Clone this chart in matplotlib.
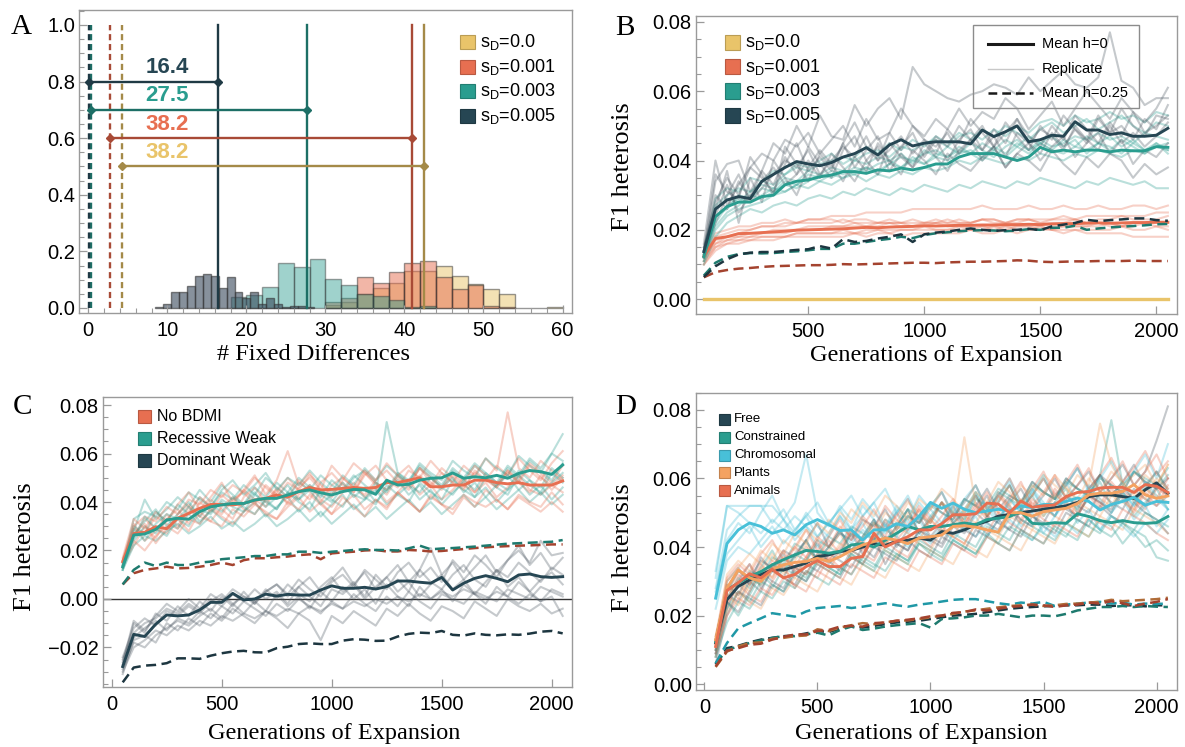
import numpy as np
import matplotlib
matplotlib.use("Agg")
import matplotlib.pyplot as plt
from matplotlib.patches import Rectangle
from matplotlib.lines import Line2D
from matplotlib.ticker import MultipleLocator
from matplotlib.colors import to_rgb

plt.rcParams["font.family"] = ["Liberation Sans", "DejaVu Sans"]
plt.rcParams["mathtext.fontset"] = "custom"
plt.rcParams["mathtext.rm"] = "Liberation Sans"
plt.rcParams["mathtext.default"] = "regular"

SERIF = "Liberation Serif"
W, H = 1185, 747
FRAME = "#9a9a9a"

DARK, TEAL, YELLOW = "#264653", "#2a9d8f", "#e9c46a"
SANDY, RED, CYAN = "#f4a261", "#e76f51", "#48c0d8"

# ---------------- data (line values in units of 1e-3) ----------------
gens = np.arange(50, 2051, 50)

# panel A: histograms of fixed differences
a_dark_centers = list(range(9, 29))
a_dark_vals = [0.005, 0.014, 0.055, 0.055, 0.077, 0.114, 0.119, 0.113, 0.070, 0.108,
               0.055, 0.034, 0.055, 0.014, 0.034, 0.014, 0.003, 0.008, 0.007, 0.003]
a_teal_left = list(range(18, 43, 2))
a_teal_vals = [0.038, 0.045, 0.075, 0.160, 0.144, 0.172, 0.101, 0.081, 0.048, 0.044,
               0.028, 0.003, 0.008]
a_orange_left = list(range(30, 53, 2))
a_orange_vals = [0.020, 0.036, 0.108, 0.087, 0.128, 0.160, 0.166, 0.111, 0.066, 0.081,
                 0.008, 0.005]
a_yellow_left = list(range(30, 59, 2))
a_yellow_vals = [0.010, 0.020, 0.050, 0.070, 0.087, 0.130, 0.130, 0.150, 0.113, 0.084,
                 0.066, 0.051, 0.0, 0.0, 0.004]
# order: sD = 0.0, 0.001, 0.003, 0.005
a_dashed_x = [4.3, 2.7, 0.35, 0.15]
a_solid_x = [42.5, 40.9, 27.7, 16.4]
a_bar_y = [0.5, 0.6, 0.7, 0.8]
a_labels = ["38.2", "38.2", "27.5", "16.4"]

# panel B
b_zero_mean = [0.0, 0.0, 0.0, 0.0, 0.0, 0.0, 0.0, 0.0, 0.0, 0.0,
               0.0, 0.0, 0.0, 0.0, 0.0, 0.0, 0.0, 0.0, 0.0, 0.0,
               0.0, 0.0, 0.0, 0.0, 0.0, 0.0, 0.0, 0.0, 0.0, 0.0,
               0.0, 0.0, 0.0, 0.0, 0.0, 0.0, 0.0, 0.0, 0.0, 0.0, 0.0]
b_red_mean = [12.4, 17.5, 18.0, 18.9, 19.0, 19.2, 19.4, 19.6, 19.9, 20.0,
              20.1, 20.2, 20.3, 20.5, 20.7, 20.6, 20.8, 20.9, 21.0, 21.2,
              21.1, 21.2, 21.3, 21.3, 21.4, 21.4, 21.5, 21.5, 21.6, 21.5,
              21.7, 21.8, 21.8, 21.9, 22.0, 21.9, 22.0, 22.1, 22.1, 22.2, 22.2]
b_teal_mean = [12.3, 23.8, 26.7, 28.0, 28.0, 29.6, 30.0, 33.0, 34.0, 34.4,
               35.3, 35.8, 36.8, 36.8, 36.3, 37.3, 37.0, 37.8, 37.3, 38.0,
               39.0, 39.0, 41.0, 42.0, 42.0, 42.0, 41.0, 40.0, 41.0, 43.8,
               42.5, 43.0, 42.5, 43.0, 43.0, 42.5, 43.0, 42.8, 42.8, 44.0, 43.8]
b_dark_mean = [13.7, 26.0, 28.6, 29.6, 29.0, 34.0, 36.0, 38.0, 39.7, 39.0,
               38.5, 39.4, 41.0, 42.0, 43.7, 41.6, 44.5, 46.0, 44.2, 45.0,
               45.4, 45.4, 45.4, 44.8, 48.8, 46.9, 48.3, 50.0, 45.4, 46.0,
               47.3, 47.0, 51.2, 48.8, 48.8, 47.5, 48.0, 47.0, 47.0, 47.3, 49.3]
b_red_dash = [6.3, 7.8, 8.4, 8.8, 9.0, 9.3, 9.5, 9.6, 9.7, 9.8,
              9.8, 9.9, 10.1, 10.0, 10.1, 10.2, 10.3, 10.4, 10.5, 10.5,
              10.4, 10.6, 10.7, 10.8, 10.8, 10.9, 11.0, 11.2, 11.1, 10.8,
              10.7, 10.8, 10.9, 10.9, 11.0, 11.0, 11.0, 11.1, 11.0, 11.0, 11.0]
b_teal_dash = [6.8, 10.5, 12.2, 13.0, 13.3, 13.2, 13.3, 13.6, 13.8, 14.1,
               14.5, 14.5, 16.0, 16.0, 16.5, 17.0, 17.4, 18.0, 17.6, 18.5,
               19.0, 19.3, 19.6, 19.8, 19.9, 19.8, 19.6, 19.8, 20.2, 20.0,
               20.6, 20.6, 21.2, 20.0, 20.4, 20.7, 20.9, 21.1, 21.3, 21.6, 21.7]
b_dark_dash = [6.4, 9.5, 11.5, 12.9, 13.4, 13.6, 13.6, 13.9, 14.2, 14.4,
               15.3, 14.6, 17.3, 16.5, 16.8, 17.5, 18.0, 18.7, 16.5, 18.7,
               19.2, 19.5, 20.0, 20.4, 20.0, 19.7, 19.9, 20.0, 20.3, 19.9,
               21.0, 21.5, 22.0, 22.9, 22.5, 22.8, 23.0, 23.3, 23.3, 22.8, 22.6]
b_red_reps = [
    [11, 16, 18, 19, 20, 21, 21, 22, 22, 23, 23, 24, 24, 24, 25, 25, 25, 25, 26, 26, 26, 26, 26, 26, 27, 26, 26, 26, 27, 26, 26, 27, 26, 26, 27, 26, 26, 27, 27, 26, 27],
    [12, 17, 18, 18, 19, 19, 20, 20, 20, 21, 21, 21, 21, 22, 21, 22, 22, 22, 22, 22, 23, 22, 23, 22, 23, 23, 22, 23, 23, 22, 23, 23, 23, 22, 23, 23, 24, 23, 23, 23, 24],
    [10, 14, 16, 17, 17, 18, 18, 18, 19, 19, 19, 19, 20, 19, 20, 20, 20, 20, 20, 21, 20, 20, 21, 20, 21, 21, 20, 21, 21, 21, 20, 21, 21, 21, 22, 21, 21, 21, 22, 21, 21],
    [13, 19, 20, 21, 21, 22, 22, 23, 22, 23, 23, 23, 22, 23, 23, 22, 23, 22, 23, 22, 22, 23, 22, 22, 23, 22, 22, 22, 23, 22, 22, 22, 23, 22, 22, 22, 21, 22, 22, 22, 22],
    [11, 15, 16, 16, 17, 17, 17, 18, 18, 18, 18, 18, 18, 19, 18, 19, 19, 18, 19, 19, 19, 19, 19, 20, 19, 19, 20, 19, 20, 20, 20, 19, 20, 20, 20, 20, 21, 20, 20, 21, 20],
    [12, 18, 19, 20, 20, 21, 21, 21, 22, 22, 22, 22, 23, 22, 22, 22, 22, 21, 21, 21, 22, 21, 21, 21, 21, 20, 21, 20, 20, 21, 20, 20, 20, 19, 19, 19, 19, 18, 18, 18, 18],
    [10, 15, 17, 18, 18, 19, 19, 19, 20, 20, 20, 21, 21, 21, 21, 21, 22, 22, 21, 22, 22, 22, 22, 22, 23, 23, 22, 23, 23, 23, 23, 24, 23, 24, 24, 24, 24, 24, 24, 25, 25],
    [12, 16, 17, 17, 18, 18, 18, 18, 19, 19, 19, 19, 19, 19, 19, 20, 19, 20, 20, 20, 20, 20, 20, 20, 20, 21, 21, 21, 21, 20, 21, 21, 21, 21, 21, 22, 21, 22, 22, 22, 22],
]
b_teal_reps = [
    [11, 20, 24, 26, 27, 28, 30, 31, 33, 32, 34, 33, 35, 36, 34, 36, 35, 37, 36, 38, 37, 38, 40, 39, 41, 40, 39, 41, 40, 42, 41, 40, 42, 41, 43, 42, 41, 43, 42, 44, 43],
    [13, 27, 30, 32, 31, 34, 33, 36, 38, 37, 39, 40, 41, 40, 42, 43, 41, 44, 43, 45, 46, 44, 47, 48, 46, 49, 47, 50, 48, 51, 52, 50, 53, 51, 52, 54, 52, 53, 51, 54, 53],
    [12, 22, 27, 29, 28, 30, 32, 31, 33, 35, 34, 36, 35, 37, 38, 36, 39, 38, 40, 39, 41, 40, 42, 43, 41, 44, 42, 45, 43, 46, 44, 45, 47, 46, 48, 46, 47, 45, 48, 47, 46],
    [10, 18, 22, 24, 26, 25, 27, 28, 27, 29, 30, 29, 31, 30, 32, 31, 30, 32, 31, 33, 32, 31, 33, 32, 34, 33, 32, 34, 33, 35, 34, 33, 32, 34, 33, 35, 34, 33, 34, 32, 32],
    [14, 29, 32, 31, 35, 34, 37, 36, 39, 38, 40, 42, 39, 41, 44, 42, 45, 43, 46, 44, 47, 45, 48, 46, 49, 47, 50, 48, 46, 49, 51, 48, 50, 52, 49, 51, 53, 50, 48, 51, 50],
    [12, 24, 26, 30, 29, 32, 31, 34, 33, 36, 35, 37, 36, 38, 37, 39, 40, 38, 41, 39, 42, 41, 43, 42, 40, 43, 41, 44, 42, 45, 43, 42, 44, 43, 45, 44, 42, 45, 43, 44, 45],
    [11, 21, 25, 27, 30, 29, 31, 33, 32, 34, 36, 35, 37, 36, 38, 37, 39, 41, 40, 42, 43, 41, 44, 42, 45, 43, 46, 44, 47, 45, 43, 46, 44, 47, 45, 43, 46, 44, 42, 45, 43],
    [13, 26, 29, 28, 31, 33, 32, 35, 34, 37, 36, 38, 37, 40, 39, 41, 40, 42, 39, 43, 41, 44, 42, 45, 43, 41, 44, 46, 43, 45, 47, 44, 46, 42, 45, 47, 44, 46, 43, 45, 42],
]
b_dark_reps = [
    [15, 28, 35, 30, 38, 42, 40, 46, 44, 48, 42, 46, 50, 44, 52, 46, 48, 55, 50, 47, 52, 49, 55, 50, 54, 52, 58, 55, 49, 53, 57, 50, 55, 60, 56, 52, 58, 54, 51, 55, 61],
    [13, 34, 39, 40, 31, 37, 45, 42, 50, 44, 53, 47, 46, 56, 50, 55, 58, 52, 67, 62, 60, 58, 57, 59, 60, 62, 61, 59, 64, 60, 63, 66, 62, 61, 64, 77, 63, 61, 56, 58, 58],
    [12, 22, 30, 36, 28, 32, 36, 40, 38, 43, 36, 40, 44, 41, 47, 40, 43, 47, 42, 46, 44, 48, 42, 46, 50, 44, 48, 52, 45, 49, 47, 43, 50, 46, 53, 48, 50, 46, 52, 49, 56],
    [16, 40, 27, 33, 38, 35, 31, 39, 45, 37, 41, 37, 45, 38, 43, 47, 39, 44, 48, 41, 46, 40, 46, 49, 43, 47, 41, 48, 45, 42, 48, 44, 49, 46, 43, 50, 45, 48, 44, 47, 51],
    [14, 24, 33, 25, 30, 34, 38, 33, 36, 40, 35, 42, 38, 34, 40, 44, 37, 42, 38, 45, 41, 37, 43, 46, 40, 44, 38, 42, 45, 40, 44, 47, 41, 45, 48, 42, 46, 39, 43, 41, 45],
    [13, 30, 26, 34, 29, 37, 33, 41, 36, 44, 39, 35, 43, 47, 40, 36, 45, 41, 38, 42, 47, 44, 50, 46, 43, 49, 45, 52, 47, 44, 50, 46, 53, 49, 45, 51, 47, 54, 48, 50, 53],
    [15, 26, 37, 22, 35, 28, 40, 35, 30, 38, 43, 39, 34, 41, 37, 45, 40, 36, 43, 40, 36, 42, 39, 37, 41, 44, 38, 42, 40, 37, 43, 39, 36, 41, 38, 42, 40, 35, 39, 36, 38],
    [14, 36, 31, 29, 41, 36, 30, 44, 39, 34, 42, 38, 45, 51, 44, 40, 48, 43, 50, 46, 42, 49, 45, 52, 48, 44, 51, 47, 43, 50, 46, 53, 49, 45, 52, 48, 55, 50, 47, 53, 52],
]

# panel C
c_nobdmi_mean = [15.4, 27.0, 27.5, 29.8, 29.0, 33.3, 35.3, 37.4, 39.0, 39.0,
                 38.8, 39.4, 40.8, 41.5, 42.9, 42.0, 44.3, 46.0, 45.0, 45.2,
                 45.6, 46.0, 45.6, 46.0, 48.0, 48.0, 49.0, 50.0, 46.3, 46.3,
                 47.0, 47.0, 49.0, 49.0, 48.0, 47.5, 48.0, 47.0, 47.0, 47.0, 48.7]
c_recessive_mean = [13.3, 26.4, 26.8, 28.7, 32.6, 33.3, 32.9, 36.0, 38.0, 38.8,
                    39.4, 39.4, 40.8, 41.5, 41.5, 42.9, 44.3, 45.0, 43.8, 42.9,
                    44.3, 45.2, 45.0, 43.2, 49.0, 47.0, 47.3, 49.0, 49.8, 50.0,
                    52.0, 49.8, 50.4, 50.0, 51.0, 49.8, 51.8, 53.0, 52.5, 51.4, 55.3]
c_dominant_mean = [-27.9, -14.6, -15.5, -10.4, -6.6, -7.0, -6.6, -4.5, -1.4, -1.4,
                   2.3, -0.4, 0.0, 2.0, 1.2, 1.9, 1.6, 1.6, 3.7, 5.4,
                   4.4, 4.4, 4.8, 4.1, 5.1, 7.4, 7.4, 6.9, 6.5, 8.9,
                   3.7, 6.5, 8.5, 9.6, 8.5, 7.1, 9.9, 10.3, 9.2, 8.9, 9.2]
c_nobdmi_dash = [6.0, 10.6, 12.0, 12.6, 13.3, 12.6, 12.8, 13.3, 14.0, 15.0,
                 14.0, 16.0, 16.8, 16.8, 17.2, 17.5, 18.1, 18.4, 16.4, 18.8,
                 19.2, 19.5, 20.0, 20.2, 19.6, 19.6, 20.2, 20.0, 19.6, 19.8,
                 20.2, 20.6, 21.0, 21.3, 21.6, 21.8, 22.0, 22.1, 22.3, 22.5, 22.5]
c_recessive_dash = [6.0, 12.0, 15.0, 13.6, 15.0, 14.0, 14.0, 15.0, 15.4, 16.4,
                    16.8, 17.2, 17.7, 17.7, 18.4, 18.4, 19.5, 19.5, 19.0, 19.5,
                    19.8, 20.2, 20.5, 20.2, 20.2, 20.0, 20.9, 22.0, 20.5, 20.8,
                    21.0, 21.3, 21.6, 22.0, 22.4, 22.8, 23.0, 23.2, 23.4, 23.6, 24.3]
c_dominant_dash = [-34.4, -28.3, -27.5, -27.2, -26.5, -24.5, -24.5, -24.7, -23.4, -22.4,
                   -21.7, -21.4, -22.0, -22.1, -20.3, -19.7, -18.6, -18.3, -18.6, -18.6,
                   -17.2, -16.6, -16.8, -17.3, -17.2, -15.5, -14.4, -13.9, -14.1, -13.2,
                   -14.8, -15.1, -14.2, -14.8, -15.0, -14.6, -14.8, -14.3, -13.5, -13.2, -14.2]
c_nobdmi_reps = [
    [14, 22, 30, 25, 33, 37, 31, 40, 36, 43, 39, 45, 41, 38, 46, 42, 49, 44, 40, 47, 50, 46, 43, 49, 53, 48, 45, 51, 47, 54, 50, 46, 52, 49, 55, 51, 58, 53, 49, 56, 61],
    [16, 31, 24, 28, 35, 30, 38, 34, 41, 37, 33, 42, 46, 40, 44, 50, 45, 41, 48, 52, 47, 44, 51, 55, 49, 46, 53, 50, 57, 52, 48, 55, 51, 58, 53, 77, 54, 50, 57, 53, 49],
    [13, 26, 33, 29, 27, 35, 39, 34, 32, 38, 42, 37, 35, 41, 45, 39, 43, 47, 41, 38, 44, 48, 42, 46, 40, 44, 49, 43, 47, 41, 45, 50, 44, 48, 42, 46, 51, 45, 43, 47, 44],
    [15, 29, 27, 34, 31, 29, 36, 42, 38, 35, 41, 44, 39, 47, 43, 40, 46, 50, 45, 42, 48, 44, 52, 47, 43, 50, 46, 54, 48, 45, 51, 47, 44, 50, 46, 53, 48, 44, 51, 45, 50],
    [14, 24, 20, 26, 30, 27, 33, 31, 37, 34, 31, 36, 40, 35, 33, 38, 42, 36, 40, 35, 39, 43, 37, 41, 38, 44, 40, 36, 42, 39, 37, 43, 40, 38, 41, 37, 42, 39, 36, 40, 36],
    [17, 33, 29, 36, 32, 39, 44, 37, 42, 48, 40, 45, 51, 43, 49, 61, 47, 52, 45, 55, 50, 46, 53, 49, 56, 51, 47, 54, 50, 46, 52, 48, 55, 51, 47, 53, 49, 56, 52, 48, 55],
    [15, 27, 31, 23, 29, 33, 28, 36, 32, 30, 37, 34, 39, 36, 33, 40, 37, 43, 39, 35, 42, 38, 34, 41, 37, 44, 40, 36, 43, 39, 35, 42, 38, 45, 41, 37, 43, 40, 38, 44, 39],
    [16, 30, 34, 32, 38, 35, 41, 39, 45, 42, 47, 44, 50, 46, 42, 48, 45, 51, 47, 43, 49, 56, 52, 48, 45, 51, 55, 49, 46, 52, 48, 45, 53, 49, 46, 52, 48, 55, 50, 47, 51],
]
c_recessive_reps = [
    [13, 28, 41, 33, 37, 42, 38, 45, 40, 47, 43, 39, 46, 42, 48, 44, 50, 46, 42, 49, 45, 51, 47, 43, 73, 52, 48, 54, 50, 46, 53, 49, 55, 51, 47, 54, 50, 57, 53, 49, 56],
    [12, 24, 30, 27, 33, 29, 35, 31, 37, 33, 30, 36, 40, 34, 38, 42, 36, 40, 34, 39, 43, 37, 41, 45, 39, 43, 47, 41, 45, 39, 44, 48, 42, 46, 40, 45, 49, 43, 47, 41, 46],
    [14, 30, 27, 36, 32, 39, 35, 42, 38, 44, 41, 47, 43, 50, 46, 42, 48, 45, 51, 47, 44, 50, 53, 48, 45, 52, 49, 55, 51, 47, 54, 50, 56, 52, 48, 55, 51, 58, 54, 60, 68],
    [12, 22, 26, 24, 28, 31, 27, 30, 34, 29, 32, 28, 31, 35, 30, 33, 37, 32, 36, 31, 35, 39, 34, 38, 33, 37, 41, 36, 40, 35, 39, 43, 38, 42, 37, 41, 45, 40, 44, 39, 43],
    [13, 33, 36, 34, 40, 37, 44, 41, 38, 45, 49, 43, 47, 52, 45, 50, 47, 53, 48, 44, 51, 47, 54, 49, 55, 51, 48, 56, 52, 49, 57, 53, 50, 58, 54, 51, 59, 55, 52, 60, 57],
    [15, 26, 32, 37, 30, 35, 40, 34, 39, 36, 42, 38, 35, 41, 37, 44, 40, 37, 45, 41, 38, 46, 42, 39, 47, 43, 40, 48, 44, 41, 49, 45, 42, 50, 46, 43, 51, 47, 44, 52, 48],
    [12, 29, 24, 31, 35, 33, 30, 37, 35, 41, 38, 36, 43, 40, 37, 44, 41, 47, 43, 40, 46, 43, 41, 48, 44, 51, 47, 44, 50, 46, 43, 49, 45, 52, 48, 45, 53, 49, 46, 54, 50],
    [13, 25, 34, 29, 26, 33, 38, 32, 36, 40, 35, 39, 44, 38, 42, 47, 41, 45, 39, 43, 48, 42, 46, 40, 45, 49, 43, 47, 41, 46, 50, 44, 48, 42, 47, 51, 45, 49, 43, 48, 52],
]
c_dominant_reps = [
    [-25, -14, -10, -8, -4, -6, -2, -5, 0, -3, 2, -1, 4, 0, 3, -2, 5, 1, -3, 4, 2, 6, 0, 5, 9, 3, 7, 1, 6, 10, 4, 8, 2, 7, 12, 5, 9, 3, 8, 11, 6],
    [-29, -18, -20, -15, -12, -9, -11, -7, -4, -8, -2, -6, -1, -5, 2, -3, 1, -4, 3, -1, 5, 0, 4, -2, 6, 1, -3, 5, 0, 4, -1, 6, 2, -2, 5, 1, 7, 3, -1, 4, 2],
    [-27, -10, -14, -6, -9, -3, -7, -1, -5, 1, -3, 3, -2, 4, 0, 6, 2, -1, 5, 9, 3, 7, 1, 10, 5, 8, 3, 12, 7, 4, 10, 14, 8, 5, 12, 9, 15, 11, 7, 13, 10],
    [-30, -20, -17, -13, -15, -11, -13, -9, -11, -7, -9, -6, -8, -5, -7, -4, -6, -3, -5, -2, -4, -1, -3, 0, -2, 1, -1, 2, 0, 3, 1, 4, 2, 0, 3, 1, -2, 2, -1, 1, -7],
    [-24, -12, -8, -11, -5, -7, -3, -6, -1, 2, -2, 1, -1, 3, 6, 2, 8, 4, 1, 7, 10, 5, 12, 8, 4, 11, 15, 9, 13, 7, 16, 11, 18, 14, 9, 16, 20, 15, 24, 18, 19],
    [-28, -16, -12, -9, -13, -8, -10, -5, -8, -3, -6, -1, -4, -7, -2, -5, 0, -3, -6, -1, -4, 2, -2, -5, 1, -3, 3, -1, -4, 2, 0, -2, 3, 1, -1, 4, 2, 0, 5, 3, 1],
    [-26, -9, -13, -7, -2, -5, 0, -4, 2, -1, 4, 1, -2, 3, 6, 1, 5, 9, 3, 8, 13, 6, 11, 4, 9, 14, 7, 12, 21, 10, 15, 8, 13, 18, 11, 16, 22, 14, 19, 12, 17],
    [-31, -17, -15, -18, -10, -13, -8, -11, -6, -9, -4, -7, -10, -5, -8, -12, -6, -9, -17, -7, -10, -5, -8, -11, -4, -7, -2, -6, -9, -3, -5, -8, -1, -4, -7, 0, -3, -5, -2, -6, -4],
]

# panel D
d_names = ["Free", "Constrained", "Chromosomal", "Plants", "Animals"]
d_free_mean = [12.0, 24.6, 28.5, 30.4, 32.0, 33.3, 33.3, 34.3, 35.3, 37.2,
               37.7, 38.7, 39.0, 40.0, 41.0, 40.5, 41.6, 42.0, 42.6, 42.0,
               44.5, 44.0, 45.0, 46.5, 47.5, 49.0, 49.5, 50.0, 50.5, 51.0,
               51.5, 52.0, 53.0, 54.7, 55.2, 55.2, 54.7, 54.2, 56.7, 58.7, 55.6]
d_constrained_mean = [12.4, 27.5, 29.5, 31.4, 32.8, 34.8, 36.3, 37.7, 39.0, 38.7,
                      38.2, 38.7, 40.6, 41.0, 40.0, 42.0, 44.0, 46.0, 45.0, 46.0,
                      46.0, 46.5, 47.0, 46.5, 48.0, 48.4, 48.9, 50.3, 46.9, 46.7,
                      47.1, 46.9, 49.7, 48.9, 47.7, 47.1, 47.7, 47.1, 46.9, 47.1, 48.9]
d_chromosomal_mean = [25.1, 41.0, 45.0, 47.0, 46.0, 44.0, 45.0, 43.5, 46.5, 48.0,
                      46.5, 44.8, 45.0, 42.0, 45.0, 45.0, 46.8, 46.0, 49.0, 53.0,
                      51.3, 52.8, 51.0, 50.0, 50.5, 51.0, 50.5, 52.0, 51.5, 52.4,
                      52.4, 53.3, 54.3, 53.3, 50.8, 52.4, 53.3, 54.5, 52.2, 53.3, 53.0]
d_plants_mean = [12.9, 28.0, 33.3, 31.0, 30.0, 33.5, 34.8, 35.5, 35.8, 36.7,
                 35.8, 37.2, 39.0, 40.6, 41.6, 42.6, 42.0, 41.0, 42.6, 43.0,
                 43.5, 46.0, 46.2, 45.8, 45.0, 44.3, 50.0, 50.0, 49.0, 50.3,
                 50.8, 51.3, 52.7, 55.2, 55.7, 55.7, 56.2, 58.2, 55.2, 54.2, 54.9]
d_animals_mean = [11.0, 27.3, 29.6, 32.2, 31.0, 33.5, 31.0, 32.0, 34.3, 36.0,
                  34.3, 34.3, 36.7, 37.2, 44.0, 40.0, 41.6, 43.0, 45.0, 45.0,
                  46.8, 49.4, 49.4, 49.7, 52.8, 52.5, 50.0, 53.4, 51.6, 52.0,
                  52.3, 54.7, 55.9, 56.2, 57.2, 57.4, 57.4, 55.9, 58.2, 57.7, 55.9]
d_free_dash = [5.8, 10.5, 11.2, 12.2, 13.0, 13.5, 14.0, 14.2, 14.8, 15.5,
               15.2, 16.2, 17.0, 16.5, 17.0, 17.5, 18.0, 18.2, 18.5, 19.0,
               19.5, 20.0, 20.2, 20.5, 21.0, 21.5, 22.0, 22.3, 22.5, 22.7,
               22.8, 23.0, 23.0, 23.2, 23.2, 22.8, 23.0, 23.0, 22.7, 23.0, 23.0]
d_constrained_dash = [6.0, 10.0, 11.0, 12.0, 12.8, 13.5, 14.0, 14.0, 14.5, 15.0,
                      14.2, 15.8, 16.8, 15.8, 16.2, 16.8, 17.2, 17.5, 17.8, 16.5,
                      19.0, 19.2, 19.5, 20.0, 20.0, 20.5, 20.0, 19.5, 20.0, 20.0,
                      19.8, 20.5, 21.5, 22.0, 22.5, 22.5, 22.8, 22.5, 22.8, 22.6, 22.5]
d_chromosomal_dash = [6.1, 12.0, 16.3, 17.8, 19.2, 20.7, 20.2, 19.7, 21.2, 22.2,
                      22.5, 22.8, 22.2, 22.6, 23.1, 23.6, 23.0, 22.6, 23.2, 23.6,
                      24.1, 24.6, 24.8, 24.8, 24.2, 23.6, 23.2, 23.8, 23.5, 24.0,
                      22.8, 23.2, 23.5, 23.8, 24.0, 23.5, 23.8, 23.2, 23.5, 23.4, 23.5]
d_plants_dash = [5.0, 9.5, 11.0, 12.0, 12.2, 13.2, 13.5, 14.0, 14.2, 16.0,
                 15.5, 16.5, 17.2, 17.8, 17.5, 18.0, 18.5, 18.6, 19.0, 19.5,
                 20.0, 20.5, 21.2, 21.5, 22.0, 22.4, 22.8, 23.0, 23.2, 22.8,
                 23.0, 23.4, 23.5, 23.8, 24.0, 24.6, 24.2, 24.4, 24.6, 24.8, 25.2]
d_animals_dash = [5.2, 9.8, 10.5, 11.5, 11.8, 13.0, 13.8, 14.5, 14.5, 15.5,
                  15.8, 16.8, 17.0, 16.8, 17.8, 18.0, 18.5, 18.8, 19.2, 19.8,
                  20.0, 20.8, 21.0, 21.8, 21.5, 22.0, 22.5, 22.8, 23.2, 23.0,
                  22.5, 23.0, 23.2, 23.8, 23.5, 24.2, 23.6, 22.8, 23.5, 24.0, 24.8]
d_free_reps = [
    [8, 22, 30, 35, 28, 33, 38, 32, 36, 41, 35, 39, 44, 38, 42, 47, 40, 45, 49, 43, 47, 52, 46, 50, 55, 48, 53, 57, 51, 55, 60, 54, 58, 62, 56, 60, 64, 58, 62, 71, 81],
    [12, 26, 24, 30, 27, 34, 31, 29, 35, 33, 38, 36, 34, 40, 37, 43, 41, 39, 45, 42, 40, 46, 44, 50, 47, 45, 51, 48, 46, 52, 49, 55, 52, 50, 56, 53, 51, 57, 54, 52, 55],
    [10, 30, 34, 29, 37, 33, 31, 38, 42, 36, 40, 45, 39, 43, 48, 42, 46, 51, 44, 48, 53, 47, 50, 55, 49, 53, 58, 51, 55, 60, 54, 58, 63, 57, 61, 55, 59, 64, 58, 62, 57],
    [6, 20, 27, 25, 23, 29, 27, 32, 30, 35, 33, 31, 37, 35, 40, 38, 36, 42, 39, 37, 43, 41, 39, 45, 43, 48, 45, 43, 49, 46, 44, 50, 48, 46, 52, 49, 47, 53, 50, 48, 44],
    [13, 28, 33, 31, 36, 34, 39, 37, 42, 47, 40, 44, 42, 48, 46, 51, 45, 49, 47, 53, 50, 48, 54, 52, 57, 51, 55, 53, 59, 56, 54, 60, 57, 55, 61, 58, 56, 62, 59, 57, 60],
    [9, 24, 21, 27, 33, 30, 28, 34, 32, 38, 36, 33, 39, 37, 43, 35, 41, 39, 45, 43, 41, 47, 45, 43, 49, 47, 45, 51, 49, 47, 53, 51, 49, 55, 53, 51, 57, 54, 52, 58, 55],
]
d_constrained_reps = [
    [11, 25, 31, 28, 34, 39, 33, 37, 42, 36, 40, 45, 39, 43, 48, 41, 46, 51, 44, 49, 53, 47, 51, 56, 49, 54, 58, 51, 55, 49, 53, 57, 50, 54, 59, 52, 56, 49, 53, 57, 51],
    [9, 22, 27, 24, 30, 28, 34, 32, 30, 36, 34, 32, 38, 36, 34, 40, 38, 36, 42, 40, 38, 44, 42, 40, 46, 44, 42, 48, 46, 44, 42, 47, 45, 43, 48, 46, 41, 45, 43, 37, 36],
    [13, 29, 26, 33, 31, 37, 35, 41, 39, 37, 43, 41, 46, 44, 42, 48, 46, 51, 49, 47, 53, 50, 48, 54, 52, 57, 55, 53, 59, 56, 54, 60, 57, 55, 61, 77, 58, 62, 59, 57, 61],
    [8, 18, 24, 22, 27, 25, 30, 28, 33, 31, 29, 34, 32, 37, 35, 33, 38, 36, 41, 39, 37, 42, 40, 38, 43, 41, 46, 44, 42, 47, 45, 43, 48, 46, 44, 49, 47, 45, 50, 48, 46],
    [12, 27, 33, 31, 29, 35, 33, 38, 36, 42, 40, 38, 44, 42, 47, 45, 43, 49, 47, 52, 50, 48, 54, 52, 50, 56, 54, 52, 58, 56, 54, 59, 57, 55, 60, 58, 56, 62, 60, 58, 63],
    [10, 24, 20, 26, 32, 29, 27, 33, 31, 36, 34, 32, 38, 35, 33, 39, 37, 35, 41, 38, 36, 42, 40, 38, 44, 41, 39, 45, 43, 41, 46, 44, 42, 48, 45, 43, 47, 44, 40, 42, 39],
]
d_chromosomal_reps = [
    [33, 52, 52, 52, 52, 52, 48, 44, 50, 46, 43, 49, 45, 52, 48, 44, 51, 47, 53, 49, 46, 52, 48, 55, 51, 47, 54, 50, 56, 52, 49, 55, 51, 57, 53, 50, 56, 52, 58, 54, 51],
    [28, 45, 49, 52, 52, 47, 51, 45, 49, 53, 47, 51, 55, 49, 53, 57, 50, 54, 48, 52, 56, 50, 54, 58, 51, 55, 60, 53, 57, 51, 55, 59, 53, 57, 61, 55, 59, 53, 57, 62, 56],
    [25, 38, 42, 46, 40, 44, 48, 42, 46, 40, 44, 49, 43, 47, 41, 45, 50, 44, 48, 42, 46, 51, 45, 49, 43, 48, 52, 46, 50, 44, 49, 53, 47, 51, 45, 50, 54, 48, 52, 46, 51],
    [31, 52, 50, 47, 44, 48, 45, 49, 46, 43, 47, 44, 41, 45, 42, 46, 43, 40, 44, 41, 45, 42, 46, 43, 47, 44, 48, 45, 42, 46, 43, 47, 44, 48, 45, 49, 46, 43, 47, 44, 48],
    [22, 36, 40, 38, 42, 46, 41, 45, 49, 43, 47, 51, 45, 49, 53, 46, 50, 55, 48, 52, 56, 49, 53, 58, 51, 55, 59, 52, 56, 61, 54, 58, 63, 56, 60, 65, 58, 62, 67, 60, 70],
    [27, 42, 47, 44, 50, 55, 48, 53, 67, 50, 46, 52, 48, 54, 50, 46, 52, 48, 55, 51, 47, 53, 49, 56, 52, 48, 54, 50, 57, 53, 49, 55, 51, 58, 54, 50, 56, 52, 59, 55, 51],
]
d_plants_reps = [
    [10, 24, 30, 27, 33, 38, 32, 36, 41, 35, 39, 44, 38, 42, 47, 41, 45, 50, 44, 48, 53, 46, 51, 55, 49, 53, 58, 51, 55, 60, 54, 58, 52, 56, 61, 55, 59, 53, 57, 62, 56],
    [14, 28, 25, 31, 29, 35, 33, 31, 37, 35, 33, 39, 37, 35, 41, 39, 37, 43, 41, 39, 45, 43, 41, 47, 45, 43, 49, 47, 45, 51, 49, 47, 53, 51, 49, 55, 53, 51, 57, 55, 53],
    [8, 21, 27, 24, 22, 28, 26, 31, 29, 27, 33, 31, 29, 35, 33, 31, 37, 35, 33, 39, 37, 35, 41, 39, 37, 43, 41, 39, 45, 43, 41, 47, 45, 43, 49, 47, 45, 51, 49, 47, 44],
    [12, 32, 36, 33, 39, 36, 42, 39, 45, 42, 48, 45, 51, 48, 44, 50, 47, 53, 50, 47, 53, 50, 72, 52, 49, 55, 52, 58, 55, 61, 58, 55, 61, 58, 76, 64, 58, 61, 64, 58, 64],
    [11, 26, 23, 29, 34, 31, 37, 34, 32, 38, 36, 41, 39, 37, 43, 40, 46, 44, 42, 48, 45, 43, 49, 47, 52, 50, 48, 54, 51, 49, 55, 53, 51, 57, 54, 52, 58, 56, 54, 60, 57],
    [13, 30, 34, 38, 35, 41, 38, 44, 41, 47, 44, 50, 47, 53, 49, 55, 52, 48, 54, 51, 57, 54, 50, 56, 53, 59, 56, 52, 58, 55, 61, 57, 54, 60, 56, 62, 59, 55, 61, 58, 64],
]
d_animals_reps = [
    [12, 27, 32, 29, 35, 31, 37, 34, 40, 36, 42, 38, 45, 41, 47, 43, 50, 46, 52, 48, 44, 50, 47, 53, 49, 56, 52, 48, 54, 51, 57, 53, 50, 56, 52, 59, 55, 51, 57, 54, 60],
    [10, 23, 29, 26, 24, 30, 35, 28, 33, 31, 37, 34, 32, 38, 36, 42, 39, 37, 43, 40, 46, 43, 41, 47, 44, 50, 47, 45, 51, 48, 46, 52, 49, 55, 53, 50, 56, 54, 51, 57, 55],
    [14, 31, 35, 32, 38, 42, 36, 40, 45, 39, 43, 48, 42, 46, 51, 45, 49, 54, 47, 51, 56, 49, 53, 58, 51, 55, 60, 53, 57, 62, 55, 59, 64, 57, 61, 66, 59, 63, 68, 61, 65],
    [9, 20, 25, 23, 28, 26, 31, 29, 27, 33, 31, 29, 35, 33, 31, 37, 35, 33, 39, 37, 35, 41, 39, 37, 43, 41, 39, 45, 43, 41, 47, 45, 43, 49, 47, 45, 51, 49, 47, 44, 42],
    [13, 29, 26, 32, 30, 36, 34, 40, 37, 43, 40, 46, 43, 49, 45, 52, 48, 45, 51, 47, 53, 49, 46, 52, 48, 55, 51, 47, 53, 50, 56, 52, 49, 55, 51, 57, 54, 50, 56, 52, 58],
    [11, 25, 31, 35, 30, 34, 39, 33, 37, 42, 36, 40, 45, 39, 43, 48, 42, 46, 51, 45, 49, 54, 47, 51, 56, 50, 54, 59, 52, 56, 61, 54, 58, 63, 56, 60, 65, 58, 62, 67, 60],
]

# ---------------- layout (pixel boxes: left, top, right, bottom) ----------------
A_BOX = (79.3, 10.0, 572.0, 313.0)
B_BOX = (695.5, 16.0, 1176.7, 313.7)
C_BOX = (102.7, 397.3, 571.7, 686.7)
D_BOX = (696.0, 392.7, 1176.7, 690.0)

fig = plt.figure(figsize=(W / 100, H / 100), dpi=100)


def px2ax(box, px, py):
    l, t, r, b = box
    return (px - l) / (r - l), (b - py) / (b - t)


def shade(c, f=0.8):
    return tuple(v * f for v in to_rgb(c))


def make_axes(box):
    l, t, r, b = box
    ax = fig.add_axes([l / W, 1 - b / H, (r - l) / W, (b - t) / H])
    for s in ax.spines.values():
        s.set_color(FRAME)
        s.set_linewidth(1.0)
    ax.tick_params(which="both", direction="in", color=FRAME, labelsize=14.5,
                   top=False, right=False)
    ax.tick_params(which="major", length=6, width=0.9)
    ax.tick_params(which="minor", length=3.5, width=0.8)
    ax.tick_params(axis="x", pad=6)
    ax.tick_params(axis="y", pad=3)
    return ax


def place_labels(ax, box, xlab, xpos, ylab=None, ypos=None):
    ax.set_xlabel(xlab, family=SERIF, fontsize=17.5)
    ax.xaxis.set_label_coords(*px2ax(box, *xpos))
    ax.xaxis.label.set_va("center")
    if ylab:
        ax.set_ylabel(ylab, family=SERIF, fontsize=19)
        ax.yaxis.set_label_coords(*px2ax(box, *ypos))
        ax.yaxis.label.set_va("center")


def square_legend(ax, box, labels, colors, x_sq, ys, size, x_txt, fs):
    for lab, c, yc in zip(labels, colors, ys):
        x0, y0 = px2ax(box, x_sq, yc + size / 2)
        x1, y1 = px2ax(box, x_sq + size, yc - size / 2)
        ax.add_patch(Rectangle((x0, y0), x1 - x0, y1 - y0, transform=ax.transAxes,
                               facecolor=c, edgecolor=shade(c), lw=0.8,
                               zorder=10, clip_on=False))
        tx, ty = px2ax(box, x_txt, yc)
        ax.text(tx, ty, lab, transform=ax.transAxes, ha="left", va="center",
                fontsize=fs, zorder=10)


def draw_series(ax, ys, color, kind):
    y = np.array(ys) * 1e-3
    x = gens[:len(y)]
    if kind == "rep":
        ax.plot(x, y, color=color, lw=1.5, alpha=0.32, zorder=2)
    elif kind == "mean":
        ax.plot(x, y, color=color, lw=2.1, zorder=4)
    else:
        ax.plot(x, y, color=color, lw=1.8, dashes=(4, 2.2), zorder=5)


def gen_ticks(ax, ticks, ylim, yticks, ylabels):
    ax.set_xticks(ticks)
    ax.set_xticklabels([str(t) for t in ticks])
    ax.set_yticks(yticks)
    ax.set_yticklabels(ylabels)
    ax.yaxis.set_minor_locator(MultipleLocator(0.005))
    ax.set_ylim(*ylim)


# ---------------- panel A ----------------
axA = make_axes(A_BOX)
hist_edge = (0.2, 0.2, 0.2, 0.55)
axA.bar(a_yellow_left, a_yellow_vals, width=2, align="edge", color=YELLOW, alpha=0.5,
        edgecolor=hist_edge, lw=1.0, zorder=1)
axA.bar(a_orange_left, a_orange_vals, width=2, align="edge", color=RED, alpha=0.5,
        edgecolor=hist_edge, lw=1.0, zorder=1)
axA.bar(a_teal_left, a_teal_vals, width=2, align="edge", color=TEAL, alpha=0.45,
        edgecolor=hist_edge, lw=1.0, zorder=1)
axA.bar(a_dark_centers, a_dark_vals, width=1, color="#37485a", alpha=0.6,
        edgecolor=hist_edge, lw=1.0, zorder=1)

a_line_cols = ["#a48a48", "#a84a36", "#1d6f66", "#1f3a45"]
a_text_cols = [YELLOW, RED, TEAL, DARK]
for xd, xs, yb, lab, lc, tc in zip(a_dashed_x, a_solid_x, a_bar_y, a_labels,
                                    a_line_cols, a_text_cols):
    axA.plot([xd, xd], [0, 1.0], color=lc, lw=1.7, dashes=(2.6, 1.6), zorder=3)
    axA.plot([xs, xs], [0, 1.0], color=lc, lw=1.7, zorder=3)
    axA.plot([xd, xs], [yb, yb], color=lc, lw=1.7, marker="D", ms=4.5, zorder=4)
    axA.text(10, yb + 0.05, lab, color=tc, fontsize=16, fontweight="bold",
             ha="center", va="center", zorder=5)

axA.set_xlim(-1.14, 61.2)
axA.set_ylim(-0.0177, 1.053)
axA.set_xticks(range(0, 61, 10))
axA.set_yticks([0, 0.2, 0.4, 0.6, 0.8, 1.0])
axA.set_yticklabels(["0.0", "0.2", "0.4", "0.6", "0.8", "1.0"])
axA.xaxis.set_minor_locator(MultipleLocator(2))
axA.yaxis.set_minor_locator(MultipleLocator(0.05))
place_labels(axA, A_BOX, "# Fixed Differences", (314, 355))
sd_labels = ["s$_D$=0.0", "s$_D$=0.001", "s$_D$=0.003", "s$_D$=0.005"]
sd_colors = [YELLOW, RED, TEAL, DARK]
square_legend(axA, A_BOX, sd_labels, sd_colors, 460.5, [42, 67, 91, 116], 14.5, 480, 13)

# ---------------- panel B ----------------
axB = make_axes(B_BOX)
for r in b_red_reps:
    draw_series(axB, r, RED, "rep")
for r in b_teal_reps:
    draw_series(axB, r, TEAL, "rep")
for r in b_dark_reps:
    draw_series(axB, r, "#4d5863", "rep")
axB.plot(gens, np.array(b_zero_mean) * 1e-3, color=YELLOW, lw=2.4, zorder=4)
draw_series(axB, b_red_mean, RED, "mean")
draw_series(axB, b_teal_mean, TEAL, "mean")
draw_series(axB, b_dark_mean, DARK, "mean")
draw_series(axB, b_red_dash, "#a4432f", "dash")
draw_series(axB, b_teal_dash, "#1e7a6e", "dash")
draw_series(axB, b_dark_dash, "#1d3640", "dash")
axB.set_xlim(14, 2088)
gen_ticks(axB, [500, 1000, 1500, 2000], (-0.0042, 0.0817),
          [0, 0.02, 0.04, 0.06, 0.08], ["0.00", "0.02", "0.04", "0.06", "0.08"])
place_labels(axB, B_BOX, "Generations of Expansion", (936, 355),
             "F1 heterosis", (623, 166.7))
square_legend(axB, B_BOX, sd_labels, sd_colors, 725, [42.3, 66.7, 91, 115], 15, 745, 13)

# line-style legend (transparent box)
bx0, by0 = px2ax(B_BOX, 972.7, 107.7)
bx1, by1 = px2ax(B_BOX, 1139, 25)
axB.add_patch(Rectangle((bx0, by0), bx1 - bx0, by1 - by0, transform=axB.transAxes,
                        fill=False, edgecolor="#8c8c8c", lw=1.0, zorder=9))
style_rows = [("Mean h=0", dict(color="#1a1a1a", lw=2.2)),
              ("Replicate", dict(color="#c8c8c8", lw=1.0)),
              ("Mean h=0.25", dict(color="#1a1a1a", lw=1.8, dashes=(3.5, 2)))]
for (lab, kw), yc in zip(style_rows, [44, 69, 93]):
    lx0, ly = px2ax(B_BOX, 987.7, yc)
    lx1, _ = px2ax(B_BOX, 1033, yc)
    axB.add_line(Line2D([lx0, lx1], [ly, ly], transform=axB.transAxes, zorder=10, **kw))
    tx, _ = px2ax(B_BOX, 1041.7, yc)
    axB.text(tx, ly, lab, transform=axB.transAxes, ha="left", va="center",
             fontsize=10.5, zorder=10)

# ---------------- panel C ----------------
axC = make_axes(C_BOX)
axC.axhline(0, color="#333333", lw=1.0, zorder=1)
for r in c_dominant_reps:
    draw_series(axC, r, "#4d5863", "rep")
for ro, rt in zip(c_nobdmi_reps, c_recessive_reps):
    draw_series(axC, ro, RED, "rep")
    draw_series(axC, rt, TEAL, "rep")
draw_series(axC, c_nobdmi_mean, RED, "mean")
draw_series(axC, c_recessive_mean, TEAL, "mean")
draw_series(axC, c_dominant_mean, DARK, "mean")
draw_series(axC, c_nobdmi_dash, "#a4432f", "dash")
draw_series(axC, c_recessive_dash, "#1e7a6e", "dash")
draw_series(axC, c_dominant_dash, "#1d3640", "dash")
axC.set_xlim(-41, 2091)
gen_ticks(axC, [0, 500, 1000, 1500, 2000], (-0.0362, 0.0832),
          [-0.02, 0, 0.02, 0.04, 0.06, 0.08],
          ["\u22120.02", "0.00", "0.02", "0.04", "0.06", "0.08"])
place_labels(axC, C_BOX, "Generations of Expansion", (334, 733.3),
             "F1 heterosis", (25, 546.7))
square_legend(axC, C_BOX, ["No BDMI", "Recessive Weak", "Dominant Weak"],
              [RED, TEAL, DARK], 138, [416.7, 438.3, 460.7], 13, 157, 11.5)

# ---------------- panel D ----------------
axD = make_axes(D_BOX)
d_colors = [DARK, TEAL, CYAN, SANDY, RED]
d_rep_colors = ["#4d5863", TEAL, CYAN, SANDY, RED]
d_dash_colors = ["#1d3640", "#1e7a6e", "#1f98a6", "#b06c38", "#a4432f"]
d_means = [d_free_mean, d_constrained_mean, d_chromosomal_mean, d_plants_mean, d_animals_mean]
d_dashes = [d_free_dash, d_constrained_dash, d_chromosomal_dash, d_plants_dash, d_animals_dash]
d_reps = [d_free_reps, d_constrained_reps, d_chromosomal_reps, d_plants_reps, d_animals_reps]
for i in range(6):
    for reps, c in zip(d_reps, d_rep_colors):
        draw_series(axD, reps[i], c, "rep")
for m, c in zip(d_means, d_colors):
    draw_series(axD, m, c, "mean")
for dsh, c in zip(d_dashes, d_dash_colors):
    draw_series(axD, dsh, c, "dash")
axD.set_xlim(-37, 2089)
gen_ticks(axD, [0, 500, 1000, 1500, 2000], (-0.0017, 0.085),
          [0, 0.02, 0.04, 0.06, 0.08], ["0.00", "0.02", "0.04", "0.06", "0.08"])
place_labels(axD, D_BOX, "Generations of Expansion", (921, 733.3),
             "F1 heterosis", (623.3, 548))
square_legend(axD, D_BOX, d_names, d_colors, 719, [419.3, 437.3, 455, 472.7, 490.7],
              11, 734, 9.5)

# panel letters
for letter, (px, py) in zip("ABCD", [(21, 27), (625, 28), (22, 407), (626, 407)]):
    fig.text(px / W, 1 - py / H, letter, family=SERIF, fontsize=21,
             ha="center", va="center")

fig.savefig("out.png", dpi=100)
